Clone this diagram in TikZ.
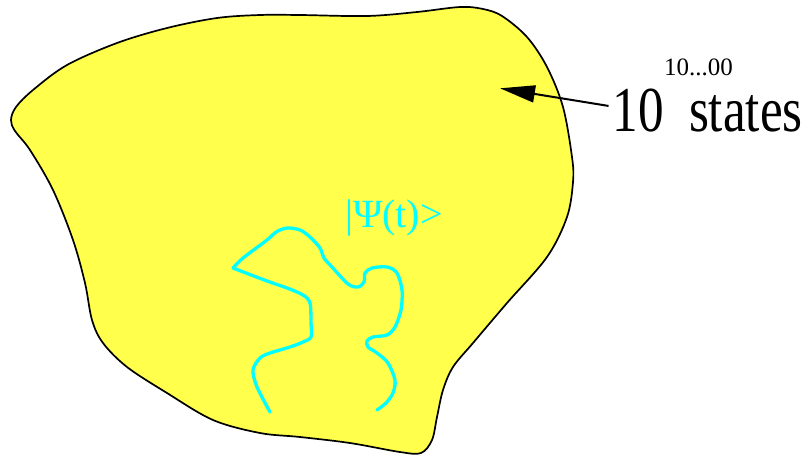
\documentclass[tikz,border=0pt]{standalone}
\usepackage{fontspec}
\usepackage{graphicx}
\setmainfont{Liberation Serif}
\usetikzlibrary{arrows.meta}
\definecolor{blobyellow}{RGB}{255,255,76}
\definecolor{psicyan}{RGB}{0,255,255}
\tikzset{
  blob/.style={draw=black, line width=1.7pt, fill=blobyellow, line join=round},
  psipath/.style={draw=psicyan, line width=3.3pt, line cap=round, line join=round},
  lbl/.style={inner sep=0pt, outer sep=0pt, anchor=base west},
  pointer/.style={draw=black, line width=2pt, shorten <=4pt, -{Triangle[length=35pt,width=17pt]}},
}
\begin{document}
\begin{tikzpicture}[x=1pt,y=-1pt]
\useasboundingbox (0,0) rectangle (806,456);
% state space blob
\path[blob] plot[smooth cycle, tension=0.55] coordinates {
 (11,120) (16,107) (33,90) (67,65) (117,43) (167,28) (217,18) (260,15) (300,15)
 (367,16) (417,12) (460,7) (483,9) (502,16) (527,37) (547,67) (563,107) (572,157)
 (573,182) (567,217) (547,257) (507,303) (473,343) (453,367) (443,390) (437,417)
 (432,440) (421,453) (400,452) (350,443) (300,437) (260,433) (213,420) (167,393)
 (127,367) (103,343) (92,320) (85,283) (73,240) (53,190) (30,150) (15,131)};
% trajectory
\draw[psipath] plot[smooth, tension=0.5] coordinates {
 (270,412) (257,387) (253,370) (260,358) (270,353) (290,347) (303,342) (311,337)
 (311,323) (310,303) (303,295) (287,288) (267,281) (233,268)};
\draw[psipath] plot[smooth, tension=0.5] coordinates {
 (233,268) (243,258) (267,240) (276,232) (287,228) (300,230) (310,237) (320,248)
 (324,258) (332,267) (348,284) (358,287) (364,282) (365,273) (372,268) (387,267)
 (397,273) (402,290) (401,310) (395,327) (387,335) (373,337) (367,341) (368,347)
 (377,353) (388,363) (395,380) (393,393) (386,403) (377,410)};
\node[lbl, text=psicyan, font=\fontsize{40}{44}\selectfont] (psi) at (345,227) {|Ψ(t)>};
% labels
\node[lbl, font=\fontsize{64}{70}\selectfont] (ten) at (612.5,131.7) {\scalebox{0.8}[1]{10}};
\node[lbl, font=\fontsize{25}{28}\selectfont] (exp) at (664,75) {10...00};
\node[lbl, font=\fontsize{64}{70}\selectfont] (states) at (689,131.7) {\scalebox{0.8}[1]{states}};
\coordinate (tip) at (500,88.3);
\draw[pointer] (ten) -- (tip);
\end{tikzpicture}
\end{document}
